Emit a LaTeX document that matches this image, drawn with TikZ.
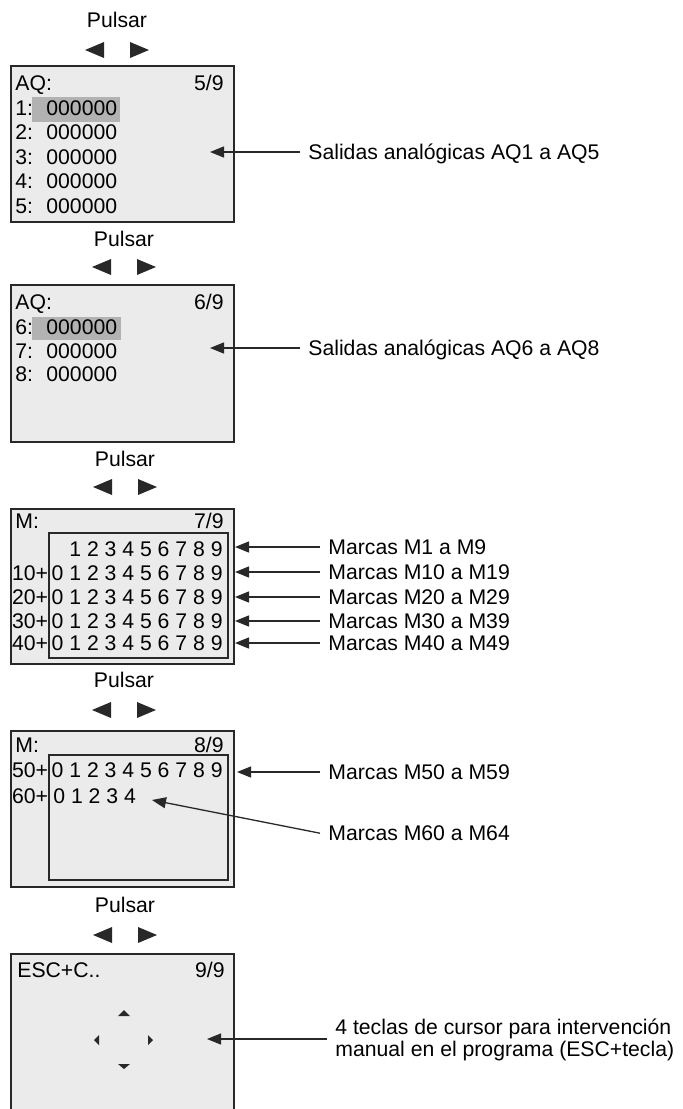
\documentclass[tikz,border=0pt]{standalone}
\usepackage{fontspec}
\setmainfont{Liberation Sans}
\usetikzlibrary{arrows.meta,positioning}
\definecolor{LCDgray}{RGB}{235,235,235}
\definecolor{LCDsel}{RGB}{178,178,178}
\definecolor{LCDline}{RGB}{40,40,40}
\tikzset{
  screen/.style={draw=LCDline,line width=1.1pt,fill=LCDgray,minimum width=111.5pt,inner sep=0pt},
  field/.style={draw=LCDline,line width=0.75pt,fill=LCDgray,inner sep=0pt,
                minimum width=89.5pt,minimum height=62.5pt},
  sel/.style={fill=LCDsel,inner sep=0pt},
  lcd/.style={inner sep=0pt,anchor=base west,yshift=-3.75pt},
  lcdr/.style={lcd,anchor=base east},
  note/.style={inner xsep=4pt,inner ysep=0pt,anchor=base west,yshift=-3.75pt},
  ptr/.style={-{Triangle[length=7pt,width=5.5pt]},line width=0.65pt,draw=LCDline},
  key/.style={fill=LCDline}
}

\begin{document}
\begin{tikzpicture}[x=0.5pt,y=-0.5pt,font=\fontsize{10.6}{10.9}\selectfont]
  \useasboundingbox (0,0) rectangle (683,1109);
  % Pulsar + keys
  \foreach \cx/\yt/\ya [count=\i] in {117/20/50,124/239/267,125/459/487,124/680/710,125/905/935}{
    \node[lcd,anchor=base] (pu\i) at (\cx,\yt) {Pulsar};
    \fill[key] (\cx-32,\ya) -- (\cx-13,\ya-8) -- (\cx-13,\ya+8) -- cycle;
    \fill[key] (\cx+32,\ya) -- (\cx+13,\ya-8) -- (\cx+13,\ya+8) -- cycle;
  }
  % screens
  \node[screen,minimum height=78pt] (s1) at (122.5,144) {};
  \node[screen,minimum height=78.5pt] (s2) at (122.5,363.5) {};
  \node[screen,minimum height=77.5pt] (s3) at (122.5,586.5) {};
  \node[screen,minimum height=78pt] (s4) at (122.5,809) {};
  \node[screen,minimum height=79pt] (s5) at (122.5,1033) {};
  \node[field] (f3) at (138.5,595.5) {};
  \node[field] (f4) at (138.5,817.5) {};
  \node[sel,minimum width=44pt,minimum height=12.5pt] (h1) at (76,109.5) {};
  \node[sel,minimum width=44.5pt,minimum height=11.5pt] (h2) at (76.5,328.5) {};

  % AQ 5/9
  \node[lcd] (aq1) at (15,83) {AQ:};
  \node[lcdr] (pg1) at (224,83) {5/9};
  \foreach \n [count=\k from 0] in {1,...,5}{
    \node[lcd] (a\n) at (15,{108+24.4*\k}) {\n:};
    \node[lcd] (av\n) at (46,{108+24.4*\k}) {000000};
  }
  % AQ 6/9
  \node[lcd] (aq2) at (15,302) {AQ:};
  \node[lcdr] (pg2) at (224,302) {6/9};
  \foreach \n [count=\k from 0] in {6,7,8}{
    \node[lcd] (a\n) at (15,{327+23.5*\k}) {\n:};
    \node[lcd] (av\n) at (46,{327+23.5*\k}) {000000};
  }
  % M 7/9
  \node[lcd] (m1) at (15,521) {M:};
  \node[lcdr] (pg3) at (224,521) {7/9};
  \node[lcdr] (r0) at (223,549) {1 2 3 4 5 6 7 8 9};
  \foreach \r/\y in {1/573,2/597,3/621,4/643}{
    \node[lcdr] (rl\r) at (48.5,\y) {\r0+};
    \node[lcdr] (r\r) at (223,\y) {0 1 2 3 4 5 6 7 8 9};
  }
  % M 8/9
  \node[lcd] (m2) at (15,745) {M:};
  \node[lcdr] (pg4) at (224,745) {8/9};
  \node[lcdr] (rl5) at (48.5,770) {50+};
  \node[lcdr] (r5) at (223,770) {0 1 2 3 4 5 6 7 8 9};
  \node[lcdr] (rl6) at (48.5,796) {60+};
  \node[lcd] (r6) at (53,796) {0 1 2 3 4};
  % ESC+C 9/9
  \node[lcd] (esc) at (17,970) {ESC+C..};
  \node[lcdr] (pg5) at (225,970) {9/9};
  \fill[key] (118,1016) -- (130,1016) -- (124,1010) -- cycle;
  \fill[key] (118,1064) -- (130,1064) -- (124,1069) -- cycle;
  \fill[key] (99,1035) -- (99,1045) -- (94,1040) -- cycle;
  \fill[key] (148,1035) -- (148,1045) -- (153,1040) -- cycle;

  % labels
  \node[note] (l1) at (300,152) {Salidas analógicas AQ1 a AQ5};
  \node[note] (l2) at (300,348) {Salidas analógicas AQ6 a AQ8};
  \coordinate (t1) at (210,152);
  \coordinate (t2) at (210,348);
  \draw[ptr] (l1.west |- t1) -- (t1);
  \draw[ptr] (l2.west |- t2) -- (t2);
  \foreach \a/\b/\y [count=\i from 3] in {1/9/547,10/19/572,20/29/597,30/39/621,40/49/643}{
    \node[note] (l\i) at (320,\y) {Marcas M\a{} a M\b};
    \coordinate (t\i) at (235,\y);
    \draw[ptr] (l\i.west |- t\i) -- (t\i);
  }
  \node[note] (l8) at (320,772) {Marcas M50 a M59};
  \coordinate (t8) at (237,772);
  \draw[ptr] (l8.west |- t8) -- (t8);
  \node[note] (l9) at (320,833) {Marcas M60 a M64};
  \coordinate (t9) at (152,800);
  \draw[ptr] (l9.west) -- (t9);
  \node[note,anchor=west,yshift=0pt,align=left] (l10) at (327,1032.5)
    {4 teclas de cursor para intervención\\manual en el programa (ESC+tecla)};
  \coordinate (t10) at (207,1039);
  \draw[ptr] (l10.west |- t10) -- (t10);
\end{tikzpicture}
\end{document}
